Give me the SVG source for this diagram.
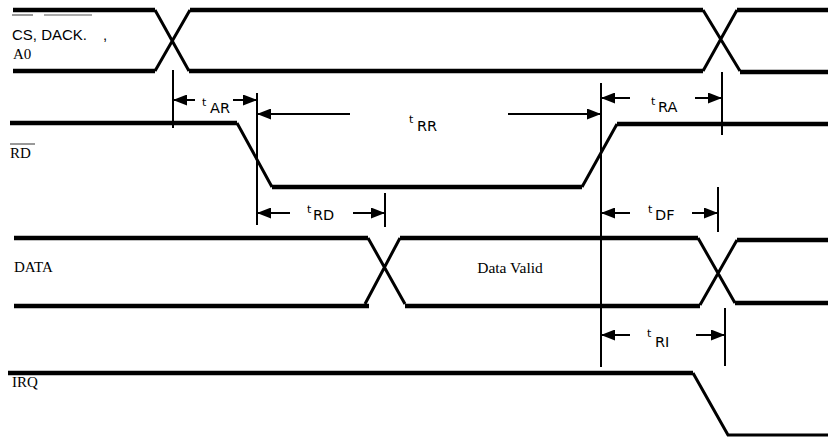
<svg xmlns="http://www.w3.org/2000/svg" width="828" height="437" viewBox="0 0 828 437">
<style>
.sig{fill:none;stroke:#000;stroke-width:4.5;stroke-linejoin:miter}
.edge{fill:none;stroke:#000;stroke-width:3}
.thin{fill:none;stroke:#000;stroke-width:2}
.arr{fill:none;stroke:#000;stroke-width:2;marker-end:url(#ah)}
.bar{stroke:#555;stroke-width:1.2}
.lbl{font-family:"Liberation Serif",serif;font-size:15px;fill:#000}
.lbls{font-family:"Liberation Sans",sans-serif;font-size:15px;fill:#000}
.tm{font-family:"DejaVu Sans",sans-serif;fill:#000}
.ts{font-size:11px}
.tc{font-size:14.5px}
</style>
<defs>
<marker id="ah" viewBox="0 0 14 11" refX="14" refY="5.5" markerWidth="14" markerHeight="11" markerUnits="userSpaceOnUse" orient="auto">
<path d="M0,0 L14,5.5 L0,11 z" fill="#000"/>
</marker>
</defs>
<rect width="828" height="437" fill="#fff"/>

<g id="sig-cs">
<path class="sig" d="M13,10 H155 M190,10 H703 M737,10 H828"/>
<path class="sig" d="M13,71 H155 M189,71 H703 M740,72 H828"/>
<path class="edge" d="M155,10 L189,71 M155,71 L190,10 M703,10 L740,71 M703,71 L737,10"/>
<text class="lbls" x="12" y="40">CS, DACK.</text>
<text class="lbls" x="103" y="40">,</text>
<line class="bar" x1="12" y1="15" x2="33" y2="15"/>
<line class="bar" x1="44" y1="15" x2="92" y2="15"/>
<text class="lbl" x="13" y="59">A0</text>
</g>

<g id="sig-rd">
<path class="sig" d="M10,123 H237 M272,187 H582 M617,124 H828"/>
<path class="edge" d="M237,123 L272,187 M582,187 L617,124"/>
<line class="bar" x1="10" y1="144" x2="35" y2="144"/>
<text class="lbl" x="10" y="158">RD</text>
</g>

<g id="sig-data">
<path class="sig" d="M14,238 H368 M400,238 H698 M737,240 H828"/>
<path class="sig" d="M14,306 H369 M405,306 H700 M735,303 H828"/>
<path class="edge" d="M368,238 L405,304 M365,304 L400,238 M698,238 L735,303 M700,305 L737,240"/>
<text class="lbl" x="14" y="272">DATA</text>
<text class="lbl" x="510" y="273" text-anchor="middle" style="font-size:15.5px">Data Valid</text>
</g>

<g id="sig-irq">
<path class="sig" d="M8,373 H693"/>
<path class="edge" d="M693,373 L728,435 H828"/>
<text class="lbl" x="12" y="387">IRQ</text>
</g>

<g id="connectors">
<line class="thin" x1="173" y1="70" x2="173" y2="128"/>
<line class="thin" x1="257" y1="93" x2="257" y2="225"/>
<line class="thin" x1="385" y1="193" x2="385" y2="227"/>
<line class="thin" x1="601" y1="83" x2="601" y2="367"/>
<line class="thin" x1="722" y1="72" x2="722" y2="135"/>
<line class="thin" x1="718" y1="187" x2="718" y2="232"/>
<line class="thin" x1="725" y1="308" x2="725" y2="366"/>

<line class="arr" x1="195" y1="100" x2="173" y2="100"/>
<line class="arr" x1="233" y1="100" x2="257" y2="100"/>
<line class="arr" x1="350" y1="114" x2="257" y2="114"/>
<line class="arr" x1="508" y1="114" x2="601" y2="114"/>
<line class="arr" x1="630" y1="98" x2="601" y2="98"/>
<line class="arr" x1="695" y1="98" x2="722" y2="98"/>
<line class="arr" x1="290" y1="213" x2="257" y2="213"/>
<line class="arr" x1="353" y1="213" x2="385" y2="213"/>
<line class="arr" x1="630" y1="213" x2="601" y2="213"/>
<line class="arr" x1="692" y1="213" x2="718" y2="213"/>
<line class="arr" x1="630" y1="335" x2="601" y2="335"/>
<line class="arr" x1="696" y1="335" x2="725" y2="335"/>
</g>

<g id="timing-labels" class="tm">
<text><tspan class="ts" x="202" y="106">t</tspan><tspan class="tc" x="210" y="113">AR</tspan></text>
<text><tspan class="ts" x="409" y="123">t</tspan><tspan class="tc" x="417" y="131">RR</tspan></text>
<text><tspan class="ts" x="651" y="105">t</tspan><tspan class="tc" x="658" y="112">RA</tspan></text>
<text><tspan class="ts" x="307" y="213">t</tspan><tspan class="tc" x="313" y="220">RD</tspan></text>
<text><tspan class="ts" x="648" y="213">t</tspan><tspan class="tc" x="655" y="220">DF</tspan></text>
<text><tspan class="ts" x="647" y="337">t</tspan><tspan class="tc" x="655" y="347">RI</tspan></text>
</g>
</svg>
